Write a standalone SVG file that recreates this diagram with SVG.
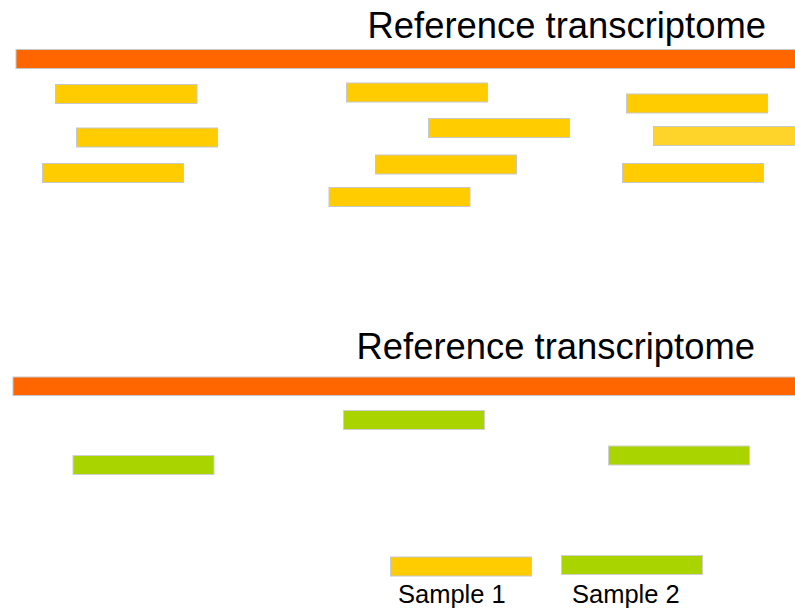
<svg xmlns="http://www.w3.org/2000/svg" width="795" height="608" viewBox="0 0 795 608">
<style>
.ref{fill:#ff6600;stroke:#c8c8c8;stroke-width:1}
.s1{fill:#ffcc00;stroke:#c8c8c8;stroke-width:1}
.s1b{fill:#ffd42a;stroke:#c8c8c8;stroke-width:1}
.s2{fill:#aad400;stroke:#d0d0d0;stroke-width:1}
.title{font-family:"Liberation Sans",Arial,sans-serif;font-size:36.4px;fill:#000;text-anchor:end}
.lbl{font-family:"Liberation Sans",Arial,sans-serif;font-size:25.5px;fill:#000}
</style>
<rect width="795" height="608" fill="#fff"/>
<g id="top">
  <text class="title" x="766" y="38">Reference transcriptome</text>
  <rect id="ref1" class="ref" x="16" y="49.5" width="785" height="19"/>
  <g id="reads1">
    <rect class="s1" x="55.5" y="84.5" width="141.5" height="19"/>
    <rect class="s1" x="76.5" y="128" width="141" height="19"/>
    <rect class="s1" x="42.5" y="163.5" width="141" height="19"/>
    <rect class="s1" x="346.5" y="83" width="141" height="19"/>
    <rect class="s1" x="428.5" y="118.5" width="141" height="19"/>
    <rect class="s1" x="375.5" y="155" width="141" height="19"/>
    <rect class="s1" x="329" y="187.5" width="141" height="19"/>
    <rect class="s1" x="626.5" y="94" width="141" height="19"/>
    <rect class="s1b" x="653.5" y="126.5" width="150" height="19"/>
    <rect class="s1" x="622.5" y="163.5" width="141" height="19"/>
  </g>
</g>
<g id="bottom">
  <text class="title" x="755" y="358.5">Reference transcriptome</text>
  <rect id="ref2" class="ref" x="13" y="377" width="790" height="18.5"/>
  <g id="reads2">
    <rect class="s2" x="73" y="455.5" width="141" height="19"/>
    <rect class="s2" x="343.5" y="410.5" width="141" height="19"/>
    <rect class="s2" x="608.5" y="446" width="141" height="19"/>
  </g>
</g>
<g id="legend">
  <g id="legend1">
    <rect class="s1" x="390.5" y="557" width="141" height="19"/>
    <text class="lbl" x="398" y="602.5">Sample 1</text>
  </g>
  <g id="legend2">
    <rect class="s2" x="561.5" y="555.5" width="141" height="19"/>
    <text class="lbl" x="572" y="602.5">Sample 2</text>
  </g>
</g>
</svg>
